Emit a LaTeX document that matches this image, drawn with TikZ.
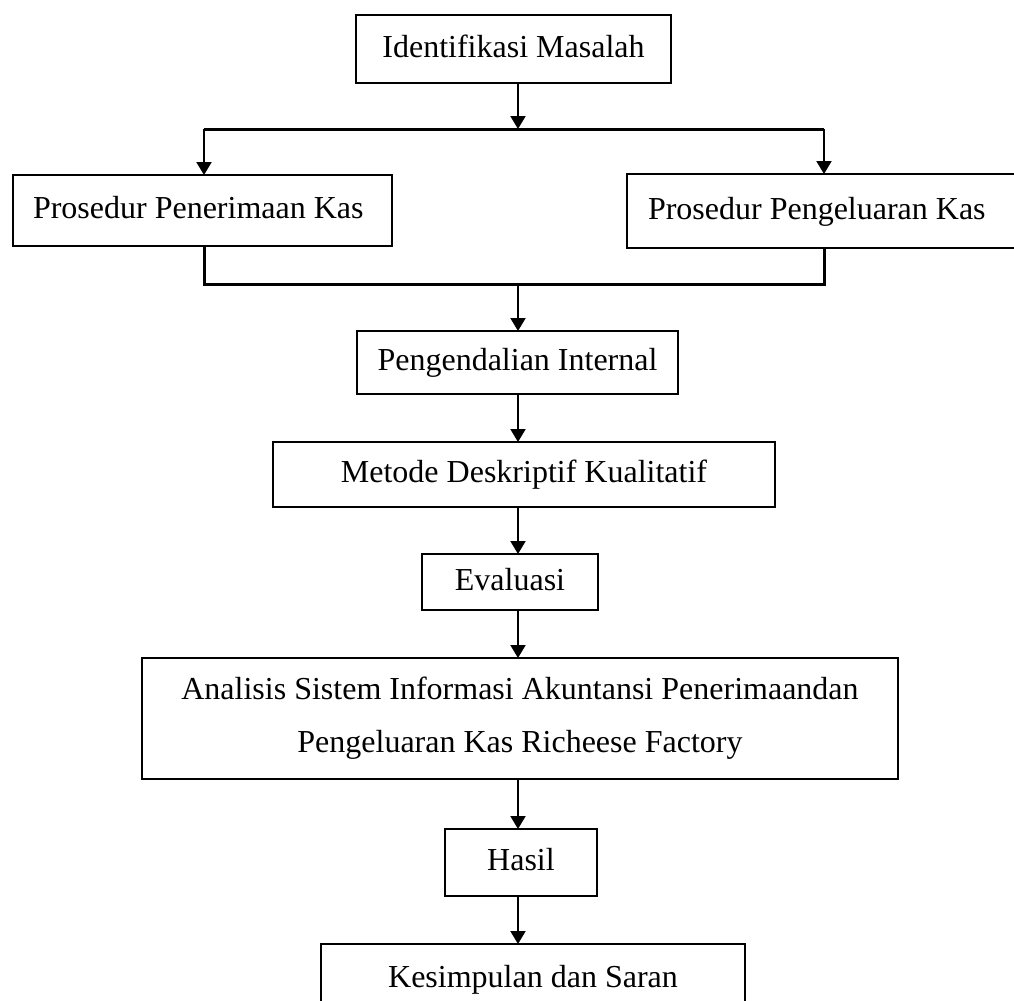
\documentclass[tikz,border=0pt]{standalone}
\usepackage{fontspec}
\setmainfont{Liberation Serif}
\usetikzlibrary{arrows.meta}
\begin{document}
\begin{tikzpicture}[x=0.5pt,y=-0.5pt,
  box/.style={draw,line width=1pt,inner sep=0pt,outer sep=0pt,
    font=\fontsize{16}{19}\selectfont},
  oneline/.style={text height=10pt,text depth=2pt},
  sidebox/.style={box,oneline,inner xsep=10pt,align=flush left},
  flow/.style={line width=1pt,-{Triangle[width=7.5pt,length=6.5pt]}},
  bus/.style={line width=1.5pt}]
\useasboundingbox (0,0) rectangle (1014,1001);
\clip (0,0) rectangle (1014,1001);

% boxes of the flow
\node[box,oneline,minimum width=157.5pt,minimum height=34pt] (idm) at (513.5,49) {Identifikasi Masalah};
\node[sidebox,text width=169.5pt,minimum height=35.5pt] (pk) at (202.5,210.5) {Prosedur Penerimaan Kas};
\node[sidebox,inner xsep=10.5pt,text width=176.5pt,minimum height=37pt] (pg) at (824.5,211) {Prosedur Pengeluaran Kas};
\node[box,oneline,minimum width=160.5pt,minimum height=31.5pt] (pi) at (517.5,362.5) {Pengendalian Internal};
\node[box,oneline,minimum width=251pt,minimum height=32.5pt] (md) at (524,474.5) {Metode Deskriptif Kualitatif};
\node[box,oneline,minimum width=88pt,minimum height=28pt] (ev) at (510,582) {Evaluasi};
\node[box,align=center,font=\fontsize{16}{26.5}\selectfont,minimum width=378pt,minimum height=60.5pt] (an) at (520,718.5)
  {Analisis Sistem Informasi Akuntansi Penerimaandan\\Pengeluaran Kas Richeese Factory};
\node[box,oneline,minimum width=76pt,minimum height=33.5pt] (hs) at (521,862.5) {Hasil};
\node[box,oneline,minimum width=212pt,minimum height=35pt] (ks) at (533,979) {Kesimpulan dan Saran};

% reference points of the connectors
\coordinate (axis) at (518,0);
\coordinate (split) at (518,129);
\coordinate (busL) at (204,129);
\coordinate (busR) at (824,129);
\coordinate (joinL) at (204,284);
\coordinate (joinR) at (824,284);
\coordinate (join) at (518,284);

% branching to both procedures
\draw[flow] (idm.south -| axis) -- (split);
\draw[bus] (busL) -- (busR);
\draw[flow] (busL) -- (busL |- pk.north);
\draw[flow] (busR) -- (busR |- pg.north);

% merging back
\draw[bus] (pk.south -| joinL) -- (joinL) -- (joinR) -- (pg.south -| joinR);
\draw[flow] (join) -- (join |- pi.north);

% main chain
\draw[flow] (pi.south -| axis) -- (md.north -| axis);
\draw[flow] (md.south -| axis) -- (ev.north -| axis);
\draw[flow] (ev.south -| axis) -- (an.north -| axis);
\draw[flow] (an.south -| axis) -- (hs.north -| axis);
\draw[flow] (hs.south -| axis) -- (ks.north -| axis);
\end{tikzpicture}
\end{document}
